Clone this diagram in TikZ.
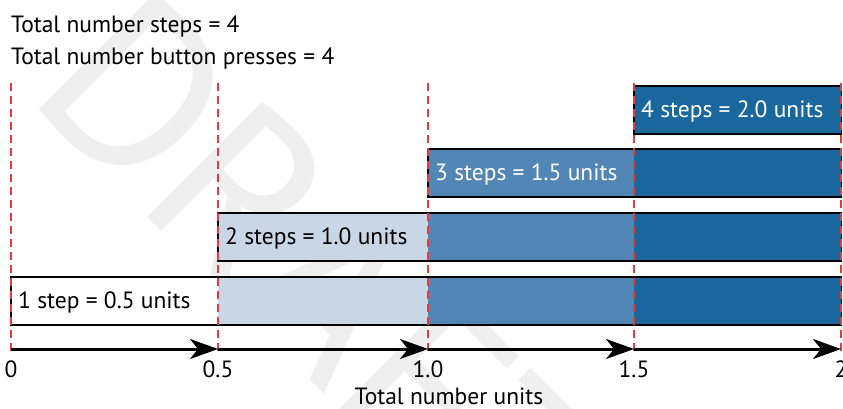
\documentclass[tikz,border=0pt]{standalone}
\usepackage{fontspec}
\setmainfont{PT Sans}
\usetikzlibrary{arrows.meta}
\definecolor{lightblue}{HTML}{C8D6E6}
\definecolor{midblue}{HTML}{5286B5}
\definecolor{darkblue}{HTML}{1A679E}
\definecolor{dashred}{HTML}{E53A40}
\definecolor{wmgray}{HTML}{EFEFEF}
\tikzset{
  lbl/.style={font=\fontsize{23.5}{27}\selectfont, inner sep=0pt},
  rowlbl/.style={lbl, anchor=base west},
  guide/.style={draw=dashred, line width=1.2pt, dash pattern=on 8pt off 5pt},
  axisarrow/.style={draw=black, line width=3pt, -{Stealth[length=28pt,width=20pt,inset=8pt]}},
  outline/.style={draw=black, line width=1.2pt},
}
\begin{document}
\begin{tikzpicture}[x=1pt,y=-1pt]
\useasboundingbox (0,0) rectangle (843,408);
% watermark
\node[rotate=-45, anchor=base west, inner sep=0pt, text=wmgray,
      font=\fontsize{235}{235}\selectfont] (wm) at (25,95) {DRAFT};
% header text
\node[rowlbl] (h1) at (11,32) {Total number steps = 4};
\node[rowlbl] (h2) at (11,64) {Total number button presses = 4};
% x positions
\def\xa{11}\def\xb{218}\def\xc{428}\def\xd{634}\def\xe{841.5}
% row 1
\fill[white] (\xa,277) rectangle (\xb,325);
\fill[lightblue] (\xb,277) rectangle (\xc,325);
\fill[midblue] (\xc,277) rectangle (\xd,325);
\fill[darkblue] (\xd,277) rectangle (\xe,325);
\draw[outline] (\xa,277) rectangle (\xe,325);
% row 2
\fill[lightblue] (\xb,213) rectangle (\xc,261);
\fill[midblue] (\xc,213) rectangle (\xd,261);
\fill[darkblue] (\xd,213) rectangle (\xe,261);
\draw[outline] (\xb,213) rectangle (\xe,261);
% row 3
\fill[midblue] (\xc,149) rectangle (\xd,197);
\fill[darkblue] (\xd,149) rectangle (\xe,197);
\draw[outline] (\xc,149) rectangle (\xe,197);
% row 4
\fill[darkblue] (\xd,86) rectangle (\xe,134);
\draw[outline] (\xd,86) rectangle (\xe,134);
% row labels
\node[rowlbl] (r1) at (18,308) {1 step = 0.5 units};
\node[rowlbl] (r2) at (225,244) {2 steps = 1.0 units};
\node[rowlbl, text=white] (r3) at (435,180) {3 steps = 1.5 units};
\node[rowlbl, text=white] (r4) at (641,117) {4 steps = 2.0 units};
% guide coordinates
\foreach \i/\x in {0/\xa,1/\xb,2/\xc,3/\xd,4/841} {
  \coordinate (t\i) at (\x,83);
  \coordinate (b\i) at (\x,353);
  \coordinate (a\i) at (\x,349);
}
\foreach \i in {0,...,4} { \draw[guide] (t\i) -- (b\i); }
% axis arrows
\draw[axisarrow] (a0) -- (a1);
\draw[axisarrow] (a1) -- (a2);
\draw[axisarrow] (a2) -- (a3);
\draw[axisarrow] (a3) -- (a4);
% axis labels
\node[lbl, anchor=base] (n0) at (11,377) {0};
\node[lbl, anchor=base] (n1) at (218,377) {0.5};
\node[lbl, anchor=base] (n2) at (428,377) {1.0};
\node[lbl, anchor=base] (n3) at (634,377) {1.5};
\node[lbl, anchor=base] (n4) at (841,377) {2};
\node[lbl, anchor=base] (ax) at (449,404) {Total number units};
\end{tikzpicture}
\end{document}
